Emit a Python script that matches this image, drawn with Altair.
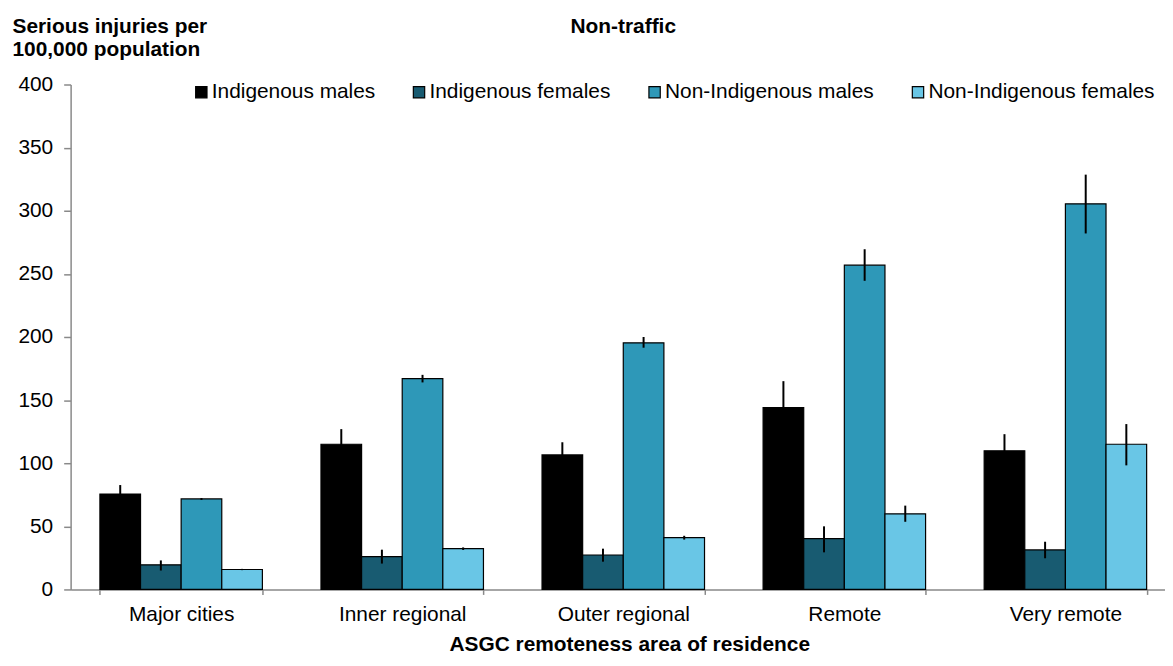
import altair as alt
import pandas as pd

categories = ["Major cities", "Inner regional", "Outer regional", "Remote", "Very remote"]
groups = ["Indigenous males", "Indigenous females", "Non-Indigenous males", "Non-Indigenous females"]
colors = ["#000000", "#185B71", "#2E98B8", "#69C6E6"]

ind_males = [75.6, 115, 106.6, 144, 109.8]
ind_males_lo = [68.5, 103, 96.6, 123, 96.6]
ind_males_hi = [82.7, 127, 116.6, 165, 123]

ind_females = [19.5, 26, 27.3, 40.2, 31.3]
ind_females_lo = [15, 20.5, 22, 29.4, 24.7]
ind_females_hi = [23, 31.5, 32.3, 50, 37.8]

non_males = [71.7, 167, 195.4, 256.9, 305.5]
non_males_lo = [70.9, 164, 191.5, 244.5, 282]
non_males_hi = [72.4, 170, 200, 269.5, 328.6]

non_females = [15.8, 32.3, 41, 59.9, 115]
non_females_lo = [15.3, 31.3, 39.5, 53.6, 98.3]
non_females_hi = [16.3, 33.3, 42.5, 66.4, 131]

chart_title = ["Non-traffic"]

series = [
    (ind_males, ind_males_lo, ind_males_hi),
    (ind_females, ind_females_lo, ind_females_hi),
    (non_males, non_males_lo, non_males_hi),
    (non_females, non_females_lo, non_females_hi),
]

rows = []
for g, (vals, lo, hi) in zip(groups, series):
    for c, v, l, h in zip(categories, vals, lo, hi):
        rows.append({"area": c, "group": g, "value": v, "lo": l, "hi": h})
df = pd.DataFrame(rows)

FONT = "Liberation Sans"
FS = 21
AXIS_GREY = "#898989"
W = 1112
H = 508

x_enc = alt.X(
    "area:N",
    sort=categories,
    scale=alt.Scale(paddingInner=0.265, paddingOuter=0.1325),
    axis=alt.Axis(
        title="ASGC remoteness area of residence",
        labelAngle=0,
        tickBand="extent",
        tickSize=5,
        labelPadding=9,
        titleX=562,
        titleY=61,
        titleBaseline="alphabetic",
    ),
)
xoff = alt.XOffset("group:N", sort=groups, scale=alt.Scale(paddingInner=0, paddingOuter=0))

bars = alt.Chart(df).mark_bar(stroke="black", strokeWidth=1.2).encode(
    x=x_enc,
    xOffset=xoff,
    y=alt.Y(
        "value:Q",
        scale=alt.Scale(domain=[0, 400], nice=False),
        axis=alt.Axis(
            values=list(range(0, 401, 50)),
            title=["Serious injuries per", "100,000 population"],
            titleAngle=0,
            titleAlign="left",
            titleBaseline="alphabetic",
            titleX=-59,
            titleY=-52,
            titleLineHeight=22.5,
            tickSize=7,
            labelPadding=11,
            grid=False,
        ),
    ),
    color=alt.Color(
        "group:N",
        sort=groups,
        scale=alt.Scale(domain=groups, range=colors),
        legend=alt.Legend(
            title=None,
            orient="none",
            legendX=121,
            legendY=-3,
            direction="horizontal",
            columns=4,
            columnPadding=33,
            symbolType="square",
            symbolSize=130,
            symbolStrokeColor="black",
            symbolStrokeWidth=1.2,
            labelFontSize=FS,
            labelOffset=0,
            labelLimit=400,
        ),
    ),
)

errs = alt.Chart(df).mark_rule(color="black", strokeWidth=2).encode(
    x=alt.X("area:N", sort=categories),
    xOffset=xoff,
    y="lo:Q",
    y2="hi:Q",
)

title_df = pd.DataFrame({"t": chart_title})
title_mark = alt.Chart(title_df).mark_text(
    font=FONT, fontSize=FS, fontWeight="bold", baseline="alphabetic", align="center", color="black"
).encode(text="t:N", x=alt.value(556), y=alt.value(-52))

chart = (
    alt.layer(bars, errs, title_mark)
    .properties(
        width=W,
        height=H,
        autosize=alt.AutoSizeParams(type="none"),
        padding={"left": 63, "top": 75, "right": -11, "bottom": 67},
    )
    .configure(font=FONT)
    .configure_axis(
        labelFont=FONT,
        titleFont=FONT,
        labelFontSize=FS,
        titleFontSize=FS,
        titleFontWeight="bold",
        labelColor="black",
        titleColor="black",
        domainColor=AXIS_GREY,
        tickColor=AXIS_GREY,
        domainWidth=1.5,
        tickWidth=1.5,
    )
    .configure_legend(labelFont=FONT, labelColor="black")
    .configure_view(stroke=None)
)

chart.save("out.html", embed_options={"renderer": "svg", "actions": False})
